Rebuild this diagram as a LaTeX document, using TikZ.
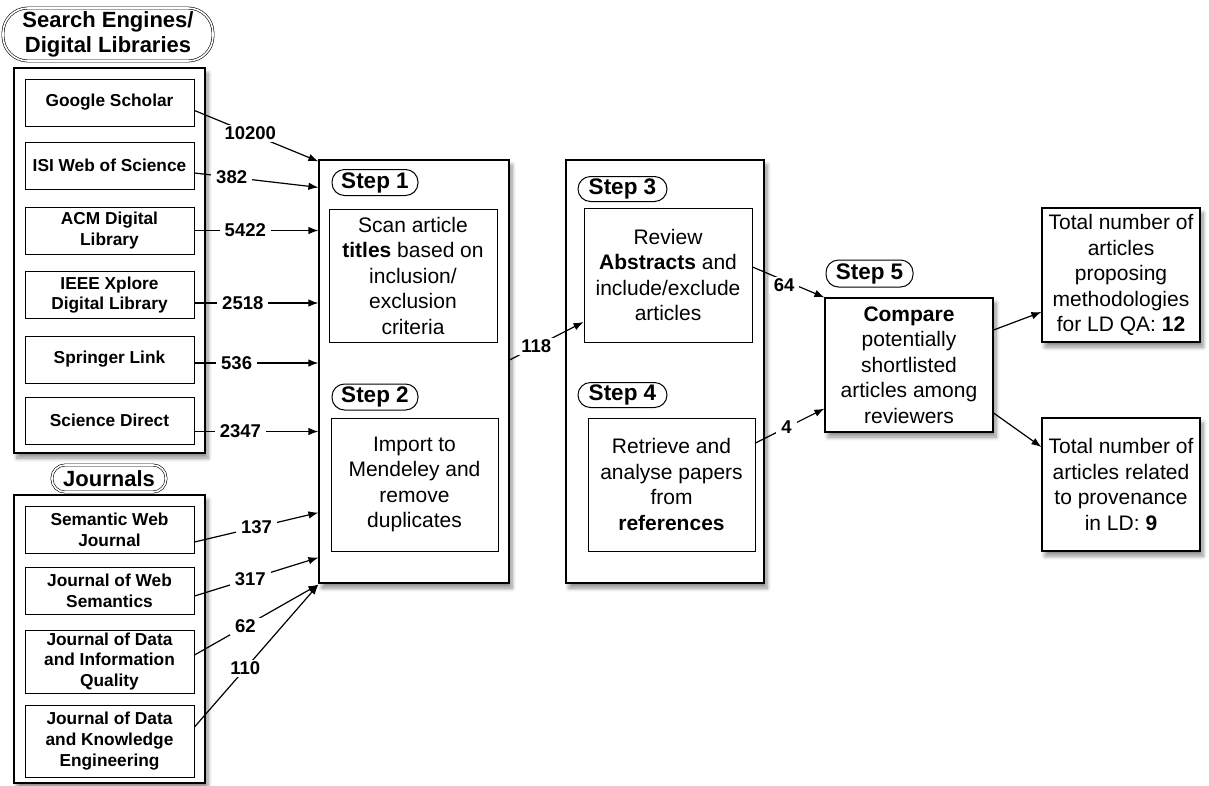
\documentclass[tikz,border=0pt]{standalone}
\usepackage{fontspec}
\setmainfont{Liberation Sans}
\usetikzlibrary{arrows.meta,shadows.blur,calc}
\begin{document}
\begin{tikzpicture}[x=1pt,y=1pt,
  outer/.style={draw, line width=1.2pt, fill=white, inner sep=0pt,
    blur shadow={shadow xshift=3pt, shadow yshift=-5pt, shadow blur radius=4pt, shadow blur steps=8, shadow opacity=45}},
  inbox/.style={draw, line width=1pt, fill=white, align=center, inner sep=0pt, minimum width=169pt,
    font=\fontsize{17.3}{20.8}\selectfont\bfseries},
  txtbox/.style={draw, line width=1pt, fill=white, align=center, inner sep=0pt,
    font=\fontsize{21}{25.5}\selectfont},
  shadbox/.style={txtbox, line width=1.2pt,
    blur shadow={shadow xshift=3pt, shadow yshift=-5pt, shadow blur radius=4pt, shadow blur steps=8, shadow opacity=45}},
  steppill/.style={draw, line width=1pt, rounded corners=12.5pt, fill=white, inner sep=0pt,
    minimum height=26pt, font=\fontsize{22.5}{25}\selectfont\bfseries},
  headpill/.style={draw, double, double distance=1.6pt, line width=0.6pt, fill=white, inner sep=0pt,
    align=center, font=\fontsize{22}{25}\selectfont\bfseries},
  num/.style={fill=white, inner xsep=5pt, inner ysep=2pt, font=\fontsize{18.5}{20}\selectfont\bfseries},
  arr/.style={-{Latex[length=10pt,width=7.5pt]}, line width=1.2pt}
]
\useasboundingbox (0,0) rectangle (1209,-785);

% ---------- search engines ----------
\node[headpill, minimum width=210pt, minimum height=53pt, rounded corners=25pt] (sehead) at (108,-34.5) {Search Engines/\\Digital Libraries};
\node[outer, minimum width=191pt, minimum height=385pt] (se) at (109.5,-260.5) {};
\node[inbox, minimum height=47pt] (gs) at (109.5,-102.5) {Google Scholar};
\node[inbox, minimum height=47pt] (isi) at (109.5,-165.5) {ISI Web of Science};
\node[inbox, minimum height=47pt] (acm) at (109.5,-230.5) {ACM Digital\\Library};
\node[inbox, minimum height=47pt] (ieee) at (109.5,-295) {IEEE Xplore\\Digital Library};
\node[inbox, minimum height=47pt] (sp) at (109.5,-359.5) {Springer Link};
\node[inbox, minimum height=47pt] (sd) at (109.5,-420.5) {Science Direct};

% ---------- journals ----------
\node[headpill, minimum width=114pt, minimum height=27pt, rounded corners=13pt] (jhead) at (109,-478.5) {Journals};
\node[outer, minimum width=191pt, minimum height=288pt] (jo) at (109.5,-639) {};
\node[inbox, minimum height=47pt] (swj) at (109.5,-529.5) {Semantic Web\\Journal};
\node[inbox, minimum height=47pt] (jws) at (109.5,-590.5) {Journal of Web\\Semantics};
\node[inbox, minimum height=63pt] (jdiq) at (109.5,-661.5) {Journal of Data\\and Information\\Quality};
\node[inbox, minimum height=72pt] (jdke) at (109.5,-741) {Journal of Data\\and Knowledge\\Engineering};

% ---------- steps 1 and 2 ----------
\node[outer, minimum width=190pt, minimum height=423pt] (step12) at (414,-371.5) {};
\node[steppill, minimum width=86pt] (s1) at (375,-182.5) {Step 1};
\node[txtbox, minimum width=168pt, minimum height=133pt] (scan) at (413,-275.5) {Scan article\\\textbf{titles} based on\\inclusion/\\exclusion\\criteria};
\node[steppill, minimum width=86pt] (s2) at (375,-397) {Step 2};
\node[txtbox, minimum width=167pt, minimum height=133pt] (import) at (414.5,-484.5) {Import to\\Mendeley and\\remove\\duplicates};

% ---------- steps 3 and 4 ----------
\node[outer, minimum width=198pt, minimum height=423pt] (step34) at (665,-371.5) {};
\node[steppill, minimum width=89pt, minimum height=25pt] (s3) at (622.5,-189) {Step 3};
\node[txtbox, minimum width=168pt, minimum height=134pt] (review) at (668,-275) {Review\\\textbf{Abstracts} and\\include/exclude\\articles};
\node[steppill, minimum width=89pt, minimum height=25pt] (s4) at (622.5,-395) {Step 4};
\node[txtbox, minimum width=167pt, minimum height=133pt] (retrieve) at (671.5,-484.5) {Retrieve and\\analyse papers\\from\\\textbf{references}};

% ---------- step 5 and results ----------
\node[steppill, minimum width=87pt, minimum height=27pt] (s5) at (869.5,-273.5) {Step 5};
\node[shadbox, minimum width=168pt, minimum height=134pt] (compare) at (909,-365) {\textbf{Compare}\\potentially\\shortlisted\\articles among\\reviewers};
\node[shadbox, minimum width=158pt, minimum height=134pt] (total1) at (1121,-275) {Total number of\\articles\\proposing\\methodologies\\for LD QA: \textbf{12}};
\node[shadbox, minimum width=158pt, minimum height=133pt] (total2) at (1121,-484.5) {Total number of\\articles related\\to provenance\\in LD: \textbf{9}};

% ---------- connector end points ----------
\coordinate (gsA) at ($(gs.east)+(0,-8)$);
\coordinate (isiA) at ($(isi.east)+(0,-7.5)$);
\coordinate (ieeeA) at ($(ieee.east)+(0,-8)$);
\coordinate (spA) at ($(sp.east)+(0,-3.5)$);
\coordinate (sdA) at ($(sd.east)+(0,-11)$);
\coordinate (swjA) at ($(swj.east)+(0,-12.5)$);
\coordinate (jwsA) at ($(jws.east)+(0,-5.5)$);
\coordinate (jdiqA) at ($(jdiq.east)+(0,6.5)$);
\coordinate (jdkeA) at ($(jdke.east)+(0,14)$);
\coordinate (inTop) at ($(step12.north west)+(0,-2)$);
\coordinate (inIsi) at ($(step12.north west)+(0,-28)$);
\coordinate (inSwj) at ($(step12.south west)+(0,71)$);
\coordinate (inJws) at ($(step12.south west)+(0,26)$);
\coordinate (inLow) at ($(step12.south west)+(0,-1)$);
\coordinate (out12) at ($(step12.east)+(0,11.5)$);
\coordinate (inRev) at ($(review.west)+(0,-47)$);
\coordinate (outRev) at ($(review.east)+(0,8)$);
\coordinate (outRet) at ($(retrieve.east)+(0,41.5)$);
\coordinate (inCmpLow) at ($(compare.south west)+(0,24)$);
\coordinate (outCmp1) at ($(compare.east)+(0,35)$);
\coordinate (outCmp2) at ($(compare.east)+(0,-48)$);
\coordinate (inT1) at ($(total1.west)+(0,-37)$);
\coordinate (inT2) at ($(total2.west)+(0,37.5)$);

% ---------- connectors ----------
\draw[arr] (gsA) -- node[num, pos=0.45] {10200} (inTop);
\draw[arr] (isiA) -- node[num, pos=0.3] {382} (inIsi);
\draw[arr] (acm.east) -- node[num, pos=0.41] {5422} (acm.east -| step12.west);
\draw[arr] (ieeeA) -- node[num, pos=0.39] {2518} (ieeeA -| step12.west);
\draw[arr] (spA) -- node[num, pos=0.34] {536} (spA -| step12.west);
\draw[arr] (sdA) -- node[num, pos=0.37] {2347} (sdA -| step12.west);

\draw[arr] (swjA) -- node[num, pos=0.5] {137} (inSwj);
\draw[arr] (jwsA) -- node[num, pos=0.45] {317} (inJws);
\draw[arr] (jdiqA) -- node[num, pos=0.41] {62} (inLow);
\draw[arr] (jdkeA) -- node[num, pos=0.41] {110} (inLow);

\draw[arr] (out12) -- node[num, pos=0.36] {118} (inRev);
\draw[arr] (outRev) -- node[num, pos=0.44, yshift=-5pt] {64} (compare.north west);
\draw[arr] (outRet) -- node[num, pos=0.45] {4} (inCmpLow);
\draw[arr] (outCmp1) -- (inT1);
\draw[arr] (outCmp2) -- (inT2);
\end{tikzpicture}
\end{document}
